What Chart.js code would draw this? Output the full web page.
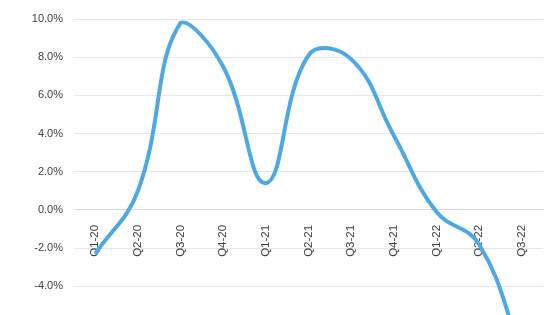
<!DOCTYPE html>
<html>
<head>
<meta charset="utf-8">
<script src="https://cdn.jsdelivr.net/npm/chart.js@4/dist/chart.umd.min.js"></script>
<style>
	html, body { margin: 0; padding: 0; overflow: hidden; background: #fff; }
	#wrap { width: 560px; height: 342px; position: relative; }
</style>
</head>
<body>
<div id="wrap"><canvas id="growthChart"></canvas></div>
<script>
// quarters and growth values (%)
var quarters = ["Q1-20", "Q2-20", "Q3-20", "Q4-20", "Q1-21", "Q2-21", "Q3-21", "Q4-21", "Q1-22", "Q2-22", "Q3-22"];
var growth = [-2.3, 1.0, 9.8, 7.5, 1.4, 8.1, 7.9, 3.9, -0.1, -1.8, -7.5];
var yTicks = [-6, -4, -2, 0, 2, 4, 6, 8, 10];

var ctx = document.getElementById("growthChart");
var myLineChart = new Chart(ctx, {
	type: 'line',
	data: {
		labels: quarters,
		datasets: [{
			data: growth,
			borderColor: "#4ea8e4",
			borderWidth: 4,
			pointRadius: 0,
			fill: false,
			tension: 0.42,
			clip: false
		}]
	},
	options: {
		responsive: true,
		maintainAspectRatio: false,
		animation: false,
		layout: { padding: { top: 19, right: 17, bottom: 0, left: 0 } },
		plugins: { legend: { display: false }, tooltip: { enabled: false } },
		scales: {
			x: {
				position: { y: 0 },
				offset: true,
				grid: { display: false },
				border: { display: true, color: "#d9d9d9", width: 1 },
				ticks: {
					color: "#404040",
					font: { family: "Liberation Sans", size: 11.5 },
					minRotation: 90,
					maxRotation: 90,
					padding: 7,
					autoSkip: false
				}
			},
			y: {
				min: -6,
				max: 10,
				afterBuildTicks: function (scale) {
					scale.ticks = yTicks.map(function (v) { return { value: v }; });
				},
				afterFit: function (scale) { scale.width = 74; },
				grid: { color: "#e6e6e6", drawTicks: false },
				border: { display: false },
				ticks: {
					color: "#404040",
					padding: 11,
					font: { family: "Liberation Sans", size: 11 },
					callback: function (v) { return v.toFixed(1) + "%"; }
				}
			}
		}
	}
});
</script>
</body>
</html>
